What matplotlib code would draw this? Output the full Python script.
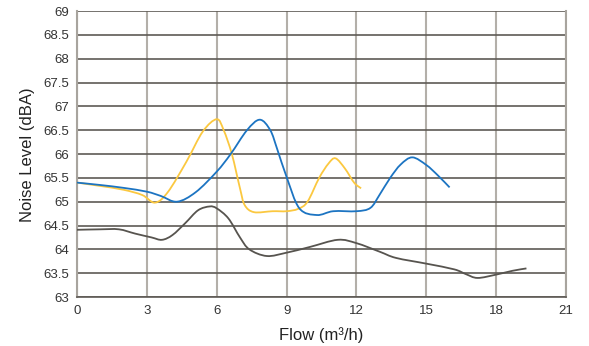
import numpy as np
import matplotlib; matplotlib.use('Agg')
import matplotlib.pyplot as plt
from matplotlib.path import Path
from matplotlib.patches import PathPatch

plt.rcParams['font.family'] = ['Liberation Sans', 'DejaVu Sans']

# values
blue_x = [0, 1, 2, 3, 3.6, 4.3, 5.1, 6.0, 6.6, 7.3, 7.85, 8.3, 8.6, 9.0,
          9.55, 10.3, 11.0, 12.0, 12.6, 13.0, 13.45, 13.9, 14.4, 15.0, 15.5, 16.0]
blue_y = [65.4, 65.35, 65.29, 65.21, 65.12, 65.0, 65.2, 65.63, 66.0, 66.5, 66.72,
          66.5, 66.1, 65.52, 64.86, 64.72, 64.8, 64.8, 64.87, 65.15, 65.5, 65.78, 65.93, 65.77,
          65.55, 65.3]

yellow_x = [0, 1, 2, 2.8, 3.35, 3.9, 4.7, 5.4, 6.0, 6.3, 6.65, 7.0, 7.2, 7.6, 8.4, 9.0, 9.5,
            9.9, 10.4, 10.8, 11.1, 11.5, 11.9, 12.2]
yellow_y = [65.4, 65.33, 65.25, 65.14, 64.98, 65.2, 65.84, 66.47, 66.73, 66.5, 66.0, 65.28,
            64.93, 64.78, 64.8, 64.8, 64.85, 65.0, 65.5, 65.8, 65.91, 65.7, 65.4, 65.28]

gray_x = [0, 1, 1.8, 2.5, 3.2, 3.65, 4.1, 4.65, 5.2, 5.7, 6.0, 6.5, 7.0, 7.4, 8.15, 9.0, 10.0,
          11.2, 12.0, 13.0, 13.7, 15.0, 16.2, 16.7, 17.2, 18.0, 18.7, 19.3]
gray_y = [64.41, 64.42, 64.42, 64.33, 64.25, 64.2, 64.3, 64.55, 64.82, 64.9, 64.86, 64.65, 64.25,
          64.0, 63.86, 63.93, 64.05, 64.2, 64.13, 63.95, 63.82, 63.7, 63.58, 63.48, 63.4, 63.47,
          63.55, 63.6]

x_ticks = [0, 3, 6, 9, 12, 15, 18, 21]
y_ticks = [63, 63.5, 64, 64.5, 65, 65.5, 66, 66.5, 67, 67.5, 68, 68.5, 69]


def smooth_path(xs, ys):
    # Catmull-Rom style Bezier through the read points (like a spreadsheet "smoothed line")
    p = np.column_stack([xs, ys]).astype(float)
    verts = [p[0]]
    codes = [Path.MOVETO]
    n = len(p)
    for i in range(n - 1):
        p0 = p[i - 1] if i > 0 else p[i]
        p3 = p[i + 2] if i + 2 < n else p[i + 1]
        c1 = p[i] + (p[i + 1] - p0) / 6
        c2 = p[i + 1] - (p3 - p[i]) / 6
        verts += [c1, c2, p[i + 1]]
        codes += [Path.CURVE4] * 3
    return Path(verts, codes)


fig = plt.figure(figsize=(5.89, 3.46), dpi=100)
ax = fig.add_axes([0.1307, 0.1416, 0.8303, 0.8265])

for xs, ys, c in [(gray_x, gray_y, '#57544f'), (yellow_x, yellow_y, '#fbc840'), (blue_x, blue_y, '#1c74c2')]:
    ax.add_patch(PathPatch(smooth_path(xs, ys), fill=False, edgecolor=c, lw=1.3, zorder=3))

ax.set_xlim(0, 21); ax.set_ylim(63, 69)
ax.set_xticks(x_ticks); ax.set_yticks(y_ticks)
ax.set_yticklabels(['%g' % v for v in y_ticks])
ax.tick_params(length=0, labelsize=9.5, colors='#333333', pad=6)
ax.xaxis.grid(True, color='#b3afa9', lw=1.5)
ax.yaxis.grid(True, color='#5e5a55', lw=1.2)
ax.set_axisbelow(True)
ax.spines['top'].set_visible(False)
ax.spines['left'].set_color('#a8a49e'); ax.spines['left'].set_linewidth(1.5)
ax.spines['right'].set_color('#a8a49e'); ax.spines['right'].set_linewidth(1.5)
ax.spines['bottom'].set_color('#5e5a55'); ax.spines['bottom'].set_linewidth(1.2)

fig.text(321 / 589, 1 - 335 / 346, 'Flow (m³/h)', fontsize=12, color='#222222', ha='center', va='center')
fig.text(28 / 589, 1 - 155 / 346, 'Noise Level (dBA)', fontsize=12, color='#222222', ha='center',
         va='center', rotation=90)

plt.savefig('out.png', dpi=100)
